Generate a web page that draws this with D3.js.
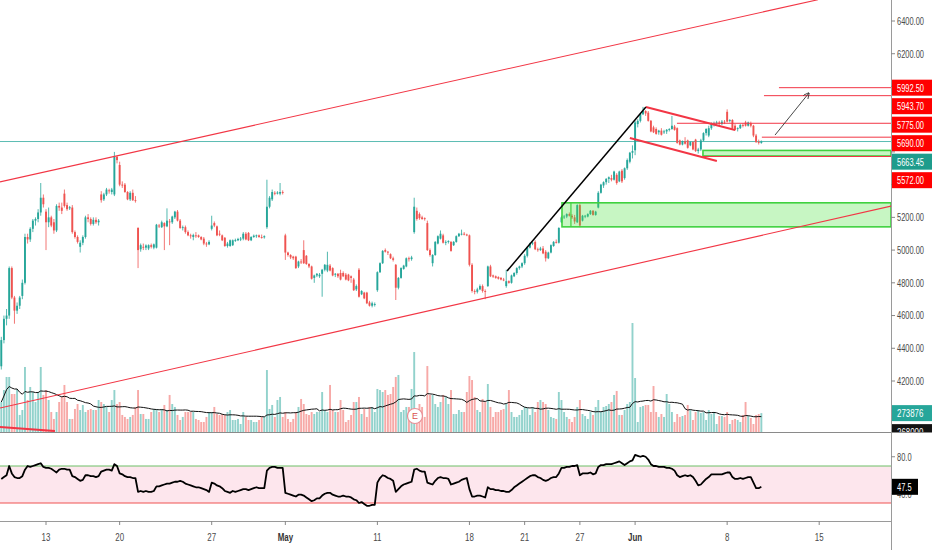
<!DOCTYPE html>
<html><head><meta charset="utf-8">
<script src="https://cdn.jsdelivr.net/npm/d3@7/dist/d3.min.js"></script>
<style>body{margin:0;background:#fff;overflow:hidden}svg{display:block}text{font-family:"Liberation Sans",Arial,sans-serif}</style>
</head><body><svg id="chart" width="932" height="550"></svg>
<script>
// ---------- DATA (hourly bars, NSE) ----------
const open=[4290,4450,4580,4600,4890,4710,4630,4660,4720,4800,5080,5065,5130,5180,5190,5230,5320,
5235,5170,5200,5170,5120,5270,5260,5345,5275,5255,5260,5110,5080,5020,5045,5080,5200,5190,5160,5185,5170,
5340,5310,5340,5365,5355,5340,5570,5520,5400,5400,5355,5310,5350,5305,5135,5005,5020,5015,5010,5030,5015,
5015,5150,5140,5165,5145,5175,5170,5200,5235,5180,5135,5140,5110,5090,5080,5090,5090,5080,5070,5040,5035,
5130,5165,5145,5100,5090,5075,5025,5025,5030,5060,5060,5065,5070,5100,5105,5060,5080,5085,5090,5080,5078,
5140,5265,5310,5350,5345,5345,5355,5090,4985,4970,4960,4960,4900,4930,5000,4965,4915,4900,4830,4845,4840,
4855,4880,4875,4905,4890,4850,4855,4860,4860,4850,4850,4840,4820,4760,4880,4730,4740,4740,4680,4660,4665,
4755,4865,4920,5000,4990,4975,4950,4910,4770,4830,4885,4900,4950,4945,5110,5240,5220,5200,5195,5165,5000,
4920,4970,5040,5070,5090,5045,5050,5050,5030,5050,5085,5095,5100,5095,5090,4910,4750,4745,4760,4780,4750,
4780,4900,4845,4840,4835,4830,4820,4780,4810,4800,4840,4860,4890,4900,4920,4965,5015,5040,5050,5005,5000,
5010,4990,4950,4985,5025,5050,5045,5170,5200,5205,5220,5210,5200,5170,5275,5180,5205,5205,5220,5240,5215,
5260,5350,5395,5415,5435,5440,5430,5460,5420,5485,5440,5500,5540,5595,5610,5770,5790,5830,5850,5840,5790,
5750,5740,5720,5730,5720,5725,5735,5740,5755,5745,5670,5645,5665,5670,5640,5660,5675,5605,5615,5670,5715,
5700,5745,5765,5775,5780,5770,5785,5845,5790,5795,5760,5740,5745,5765,5780,5760,5775,5760,5700,5660,5655];
const high=[4470,4600,4640,4900,4900,4720,4680,4720,4820,5100,5100,5140,5190,5200,5250,5410,5340,
5250,5260,5210,5190,5280,5290,5290,5370,5290,5270,5275,5120,5090,5060,5090,5210,5220,5200,5200,5200,5190,
5360,5350,5380,5375,5380,5600,5575,5540,5420,5410,5360,5360,5370,5330,5140,5040,5040,5035,5035,5040,5040,
5160,5160,5180,5170,5255,5190,5210,5240,5245,5190,5150,5150,5120,5100,5100,5110,5095,5085,5080,5050,5060,
5210,5175,5150,5120,5095,5080,5050,5065,5065,5070,5075,5080,5110,5110,5110,5085,5095,5095,5095,5095,5090,
5430,5330,5370,5360,5360,5410,5365,5100,4990,4975,4965,4965,4935,4945,5060,4970,4920,4905,4850,4860,4860,
4885,4915,4990,4915,4895,4860,4860,4880,4870,4860,4855,4845,4830,4790,4890,4755,4745,4745,4690,4685,4680,
4870,4925,5000,5010,4995,4980,4960,4915,4835,4895,4910,4955,4960,4965,5320,5260,5230,5210,5200,5180,5010,
4975,5055,5090,5120,5100,5060,5060,5055,5055,5090,5105,5125,5110,5100,5095,4920,4760,4770,4790,4790,4760,
4905,4910,4850,4845,4840,4835,4830,4880,4815,4850,4865,4895,4905,4925,4975,5020,5045,5050,5060,5015,5020,
5025,5000,4990,5035,5055,5065,5140,5210,5215,5225,5230,5220,5215,5280,5285,5215,5215,5225,5245,5245,5240,
5360,5405,5420,5440,5450,5460,5485,5470,5485,5495,5505,5560,5600,5640,5790,5800,5835,5875,5855,5850,5795,
5760,5750,5735,5745,5735,5740,5745,5820,5765,5750,5675,5670,5690,5675,5665,5665,5680,5625,5680,5720,5745,
5760,5780,5785,5790,5790,5795,5795,5860,5800,5800,5770,5750,5770,5775,5790,5785,5785,5765,5710,5675,5670];
const low=[4270,4430,4540,4580,4700,4550,4610,4640,4700,4790,5040,5050,5110,5150,5170,5210,5260,
5000,5140,5140,5100,5110,5240,5220,5260,5240,5245,5100,5070,5040,4985,5030,5070,5170,5150,5150,5160,5150,
5290,5300,5330,5345,5340,5330,5530,5390,5380,5350,5305,5300,5300,5290,4890,4990,5000,5000,5000,5010,5005,
5010,5135,5135,5000,5140,5030,5160,5190,5175,5130,5120,5100,5085,5070,5060,5075,5075,5060,5030,5020,5030,
5120,5140,5085,5085,5055,5020,5015,5020,5025,5050,5055,5055,5060,5060,5055,5055,5075,5075,5075,5070,5070,
5130,5255,5300,5335,5340,5335,5340,4940,4960,4945,4940,4885,4890,4915,4915,4910,4890,4820,4800,4835,4830,
4715,4870,4865,4870,4840,4835,4830,4815,4835,4815,4810,4800,4750,4750,4710,4725,4700,4670,4655,4650,4655,
4745,4860,4915,4985,4970,4945,4930,4695,4760,4825,4880,4895,4930,4935,5100,5180,5185,5185,5180,4995,4960,
4900,4965,5035,5065,5040,5030,5040,4990,5025,5045,5080,5090,5090,5085,4900,4740,4730,4735,4755,4740,4700,
4775,4835,4830,4825,4820,4815,4810,4770,4795,4795,4835,4850,4880,4890,4910,4955,5010,5030,5000,4990,4995,
4975,4930,4945,4980,5020,5040,5040,5165,5190,5195,5205,5190,5160,5165,5140,5175,5195,5200,5215,5210,5210,
5255,5345,5380,5400,5410,5420,5425,5400,5415,5410,5430,5490,5530,5560,5580,5750,5780,5825,5820,5785,5720,
5715,5705,5705,5700,5710,5710,5725,5735,5730,5650,5640,5640,5645,5620,5635,5610,5600,5590,5605,5665,5700,
5690,5735,5755,5760,5765,5765,5770,5780,5780,5740,5730,5725,5740,5750,5755,5755,5750,5690,5655,5645,5650];
const close=[4450,4580,4600,4890,4710,4630,4660,4710,4800,5080,5065,5130,5180,5190,5230,5320,5280,
5170,5200,5150,5120,5270,5260,5240,5270,5250,5262,5110,5080,5050,5045,5080,5200,5190,5160,5185,5170,5180,
5305,5340,5370,5360,5370,5570,5550,5400,5395,5355,5310,5350,5305,5300,5000,5030,5015,5028,5030,5020,5035,
5155,5145,5170,5145,5180,5170,5205,5235,5180,5135,5140,5110,5090,5085,5092,5085,5080,5065,5040,5035,5050,
5150,5150,5090,5095,5060,5025,5040,5060,5060,5062,5068,5070,5100,5065,5060,5080,5088,5090,5080,5078,5085,
5265,5320,5355,5345,5352,5355,5350,4985,4970,4955,4950,4890,4930,4925,4920,4915,4900,4825,4845,4855,4850,
4880,4910,4910,4875,4845,4855,4840,4820,4840,4820,4815,4830,4755,4780,4715,4750,4705,4675,4660,4675,4670,
4865,4920,4995,4990,4985,4950,4940,4770,4830,4890,4905,4950,4945,4955,5265,5190,5195,5190,5190,5000,4970,
4970,5050,5085,5100,5045,5050,5055,4995,5050,5085,5100,5100,5095,5090,4910,4750,4745,4760,4780,4750,4745,
4900,4840,4838,4830,4825,4820,4815,4810,4800,4845,4860,4890,4900,4920,4965,5015,5040,5045,5005,5000,5010,
4980,4950,4985,5030,5050,5045,5135,5200,5205,5220,5210,5200,5175,5275,5150,5210,5210,5220,5240,5215,5235,
5350,5400,5415,5435,5445,5430,5480,5410,5480,5420,5500,5550,5595,5605,5780,5790,5830,5850,5835,5790,5725,
5720,5710,5730,5705,5725,5735,5740,5760,5735,5655,5645,5665,5650,5625,5660,5615,5605,5615,5670,5715,5740,
5745,5770,5775,5780,5770,5785,5780,5785,5795,5745,5735,5745,5765,5760,5760,5780,5760,5700,5660,5655,5663.45];
const volumeK=[435,609,798,798,551,551,624,247,319,943,464,653,580,435,580,943,537,
609,464,290,189,290,435,508,682,435,189,189,334,406,319,392,290,319,334,319,319,464,
435,406,363,290,464,609,406,435,247,218,189,218,247,363,609,261,261,189,189,290,334,
334,290,334,392,319,537,406,363,247,174,218,290,290,290,290,189,174,145,145,218,290,
290,363,261,247,261,247,290,319,174,174,189,116,290,218,174,174,145,145,174,218,218,
899,334,392,218,464,508,218,290,189,145,189,290,363,479,406,261,247,290,261,290,290,
580,319,290,682,319,290,290,464,319,145,174,247,435,435,508,261,334,218,363,363,290,
624,609,580,609,537,551,653,798,827,290,319,363,363,624,1160,290,406,363,218,957,537,
537,406,363,435,537,508,406,609,261,261,319,290,290,580,812,754,508,319,290,479,435,
696,363,218,290,290,319,334,406,609,290,218,218,247,319,363,348,247,363,290,435,464,
435,406,319,218,203,189,580,464,290,218,189,145,218,363,464,261,232,189,290,247,363,
464,290,363,377,406,435,537,595,247,247,319,406,435,1581,783,145,363,377,392,392,290,
667,290,218,261,218,551,406,290,145,261,218,232,247,392,319,174,290,319,276,290,174,
319,261,290,116,232,232,218,290,116,174,189,174,145,247,435,232,203,116,247,261,273.876];
const rsi=[56,58,60,70,62,58,57,57,59,66,70,69,70,71,72,73,69,
68,68,67,65,63,66,67,67,66,66,59,58,56,54,55,60,60,59,59,58,59,
64,65,66,66,65,72,70,62,61,59,58,58,57,57,42,43,42,43,42,42,43,
48,48,49,50,51,51,52,53,53,54,53,51,50,49,48,47,47,46,45,44,42,
52,51,49,48,46,43,42,41,43,42,43,44,45,45,44,45,46,47,46,46,46,
65,68,69,69,68,68,68,41,40,39,38,37,39,39,38,36,34,32,33,35,35,
38,40,41,41,39,38,37,37,38,37,37,36,34,33,30,31,29,27,27,28,28,
52,57,60,59,57,56,54,42,45,48,50,51,52,53,66,67,65,64,64,52,51,
50,54,57,58,57,57,56,50,51,52,53,55,56,57,45,37,37,38,38,37,36,
47,45,45,44,44,43,43,42,42,44,47,49,51,53,55,57,59,60,60,58,57,
55,54,55,57,58,58,62,68,68,69,69,70,70,71,60,62,62,62,63,61,62,
69,71,71,72,72,72,73,74,75,73,71,73,75,76,82,81,80,81,80,77,72,
70,70,69,69,69,68,68,67,65,60,58,59,60,59,60,58,54,49,50,53,56,
58,61,61,61,61,61,62,63,63,58,56,56,57,56,57,58,58,52,46,46,47.5];
const tickLabels=["13","20","27","May","11","18","21","27","Jun","8","15"];
const tickBars=[17,45,80,108,143,178,199,220,241,276,311];
const priceTicks=[4200,4400,4600,4800,5000,5200,5400,5600,5800,6000,6200,6400];
const rsiTicks=[80,40];
const priceLabels=[5992.5,5943.7,5775,5690,5663.45,5572];
const priceLabelKinds=["red","red","red","red","last","red"];
const volumeLabels=[273876,268000];
const lastPrice=5663.45;
const rsiUpper=70, rsiLower=30;
// drawings: bar index / price anchors
const trendLines=[
 {kind:"channel",i1:-0.5,p1:5417,i2:310.5,p2:6530},
 {kind:"channel",i1:-0.5,p1:4035,i2:338.3,p2:5269},
 {kind:"thick",i1:-0.5,p1:3919,i2:20.4,p2:3894},
 {kind:"thick",i1:245.1,p1:5874,i2:279,p2:5734},
 {kind:"thick",i1:239,p1:5685,i2:272.1,p2:5544},
 {kind:"black",i1:192.3,p1:4872,i2:245.1,p2:5874}
];
const levels=[{p:5992.5,i:295.7},{p:5943.7,i:290},{p:5775,i:256.9},{p:5690,i:289.2},{p:5572,i:266.8}];
const zones=[{i:213.2,top:5289,bottom:5142,inner:216.6},{i:266.8,top:5609,bottom:5575}];
const arrow={i1:294.2,p1:5703,i2:307.1,p2:5960};
const earningsBar=157.3;

// ---------- LAYOUT ----------
const W=932,H=550,plotR=891,mainB=432,rsiB=521;
const svg=d3.select("#chart");
const x=d3.scaleLinear().domain([0,311]).range([1.3,819.2]);
const y=d3.scaleLinear().domain([4200,6400]).range([381,21]);
const yv=d3.scaleLinear().domain([0,1600]).range([mainB,321.7]);
const yr=d3.scaleLinear().domain([rsiLower,rsiUpper]).range([503,466]);
const UP="#26a69a",DN="#ef5350",RED="#f23645";
const N=close.length;
const isUp=i=>close[i]>=open[i];
const axisCol="#4a4a4a";

const defs=svg.append("defs");
defs.append("clipPath").attr("id","cm").append("rect").attr("x",0).attr("y",0).attr("width",plotR).attr("height",mainB);
defs.append("clipPath").attr("id","cr").append("rect").attr("x",0).attr("y",mainB).attr("width",plotR).attr("height",rsiB-mainB);
defs.append("clipPath").attr("id","ca").append("rect").attr("x",plotR).attr("y",0).attr("width",W-plotR).attr("height",mainB);
defs.append("marker").attr("id","ah").attr("viewBox","0 0 10 10").attr("refX",9).attr("refY",5)
 .attr("markerWidth",7).attr("markerHeight",7).attr("orient","auto")
 .append("path").attr("d","M0,0L10,5L0,10").attr("fill","none").attr("stroke","#333").attr("stroke-width",1.3);

const main=svg.append("g").attr("clip-path","url(#cm)");

// volume
main.append("g").selectAll("rect").data(d3.range(N)).join("rect")
 .attr("x",i=>x(i)-0.95).attr("width",1.9)
 .attr("y",i=>yv(volumeK[i])).attr("height",i=>mainB-yv(volumeK[i]))
 .attr("fill",i=>isUp(i)?"rgba(38,166,154,0.5)":"rgba(239,83,80,0.5)");
// volume MA(20)
const volMA=d3.range(N).map(i=>d3.mean(volumeK.slice(Math.max(0,i-19),i+1)));
main.append("path").datum(d3.range(N)).attr("fill","none").attr("stroke","#111").attr("stroke-width",1)
 .attr("d",d3.line().x(i=>x(i)).y(i=>yv(volMA[i])));
// earnings marker
const eg=main.append("g").attr("transform",`translate(${x(earningsBar)},${mainB-16})`);
eg.append("circle").attr("r",7.5).attr("fill","#fff").attr("stroke","#e88f97").attr("stroke-width",1.2);
eg.append("text").attr("text-anchor","middle").attr("dy","0.36em").attr("font-size",9).attr("fill","#d9534f").text("E");

// last price line
main.append("line").attr("x1",0).attr("x2",plotR).attr("y1",y(lastPrice)).attr("y2",y(lastPrice))
 .attr("stroke",UP).attr("stroke-opacity",0.75).attr("stroke-width",1);

// candles
const cg=main.append("g");
cg.selectAll("line").data(d3.range(N)).join("line")
 .attr("x1",i=>x(i)).attr("x2",i=>x(i)).attr("y1",i=>y(high[i])).attr("y2",i=>y(low[i]))
 .attr("stroke",i=>isUp(i)?UP:DN).attr("stroke-width",0.8);
cg.selectAll("rect").data(d3.range(N)).join("rect")
 .attr("x",i=>x(i)-0.95).attr("width",1.9)
 .attr("y",i=>y(Math.max(open[i],close[i])))
 .attr("height",i=>Math.max(0.9,Math.abs(y(open[i])-y(close[i]))))
 .attr("fill",i=>isUp(i)?UP:DN);

// zones
zones.forEach(z=>{
  main.append("rect").attr("x",x(z.i)).attr("y",y(z.top)).attr("width",plotR-x(z.i)).attr("height",y(z.bottom)-y(z.top))
   .attr("fill","rgba(70,225,55,0.3)").attr("stroke","#3fd13f").attr("stroke-width",1.6);
  if(z.inner!==undefined) main.append("line").attr("x1",x(z.inner)).attr("x2",x(z.inner)).attr("y1",y(z.top)).attr("y2",y(z.bottom))
   .attr("stroke","#3fd13f").attr("stroke-width",1.2);
});
// horizontal levels
levels.forEach(l=>{
  main.append("line").attr("x1",x(l.i)).attr("x2",plotR).attr("y1",y(l.p)).attr("y2",y(l.p)).attr("stroke",RED).attr("stroke-width",1);
});
// trend lines
const tStyle={channel:{c:RED,w:1.1},thick:{c:RED,w:2},black:{c:"#000",w:1.5}};
trendLines.forEach(t=>{
  main.append("line").attr("x1",x(t.i1)).attr("y1",y(t.p1)).attr("x2",x(t.i2)).attr("y2",y(t.p2))
   .attr("stroke",tStyle[t.kind].c).attr("stroke-width",tStyle[t.kind].w);
});
main.append("line").attr("x1",x(arrow.i1)).attr("y1",y(arrow.p1)).attr("x2",x(arrow.i2)).attr("y2",y(arrow.p2))
 .attr("stroke","#333").attr("stroke-width",0.9).attr("marker-end","url(#ah)");

// RSI pane
const rp=svg.append("g").attr("clip-path","url(#cr)");
rp.append("rect").attr("x",0).attr("width",plotR).attr("y",yr(rsiUpper)).attr("height",yr(rsiLower)-yr(rsiUpper)).attr("fill","#fde6ed");
rp.append("line").attr("x1",0).attr("x2",plotR).attr("y1",yr(rsiUpper)).attr("y2",yr(rsiUpper)).attr("stroke","#6dbf67").attr("stroke-width",1);
rp.append("line").attr("x1",0).attr("x2",plotR).attr("y1",yr(rsiLower)).attr("y2",yr(rsiLower)).attr("stroke","#ef5350").attr("stroke-width",1);
rp.append("path").datum(d3.range(N)).attr("fill","none").attr("stroke","#000").attr("stroke-width",1.8).attr("stroke-linejoin","round")
 .attr("d",d3.line().x(i=>x(i)).y(i=>yr(rsi[i])));

// frame lines
svg.append("line").attr("x1",0).attr("x2",W).attr("y1",mainB+0.5).attr("y2",mainB+0.5).attr("stroke","#8a8a8a");
svg.append("line").attr("x1",0).attr("x2",plotR).attr("y1",rsiB+0.5).attr("y2",rsiB+0.5).attr("stroke","#9a9a9a");
svg.append("line").attr("x1",plotR+0.5).attr("x2",plotR+0.5).attr("y1",0).attr("y2",H).attr("stroke","#9a9a9a");

// condensed text via horizontal scale
function ctext(g,tx,ty,txt,fill,opts){
  opts=opts||{};
  return g.append("text").attr("transform",`translate(${tx},${ty}) scale(${opts.sx||0.68},1)`)
   .attr("dy","0.35em").attr("font-size",opts.fs||11).attr("fill",fill)
   .attr("text-anchor",opts.anchor||"start").attr("font-weight",opts.fw||"normal").text(txt);
}

// price label positions (stacked)
const labelY=[];let prev=-1e9;
priceLabels.forEach(p=>{const cy=Math.max(y(p),prev+18.5);prev=cy;labelY.push(cy);});
const covered=v=>labelY.some(c=>Math.abs(c-v)<11);

// price axis
const ax=svg.append("g");
priceTicks.forEach(p=>{
  ax.append("line").attr("x1",plotR).attr("x2",plotR+4).attr("y1",y(p)).attr("y2",y(p)).attr("stroke","#888");
  if(!covered(y(p))) ctext(ax,plotR+6,y(p),p.toFixed(2),axisCol);
});
// volume labels (clipped at pane boundary)
const axc=svg.append("g").attr("clip-path","url(#ca)");
const vy0=yv(volumeLabels[0]/1000);
volumeLabels.forEach((v,k)=>{
  const cy=vy0+k*19;
  axc.append("rect").attr("x",plotR+1).attr("y",cy-8).attr("width",W-plotR-1).attr("height",16).attr("fill",k===0?UP:"#131313");
  ctext(axc,plotR+6,cy,String(v),"#fff",{sx:0.72});
});
// price labels
priceLabels.forEach((p,k)=>{
  const cy=labelY[k];
  ax.append("rect").attr("x",plotR+1).attr("y",cy-8).attr("width",W-plotR-1).attr("height",16)
   .attr("fill",priceLabelKinds[k]==="last"?"#1e9c8c":"#ff0000");
  ctext(ax,plotR+6,cy,p.toFixed(2),"#fff");
});
// RSI axis
rsiTicks.forEach(v=>{
  svg.append("line").attr("x1",plotR).attr("x2",plotR+4).attr("y1",yr(v)).attr("y2",yr(v)).attr("stroke","#888");
  ctext(svg,plotR+6,yr(v),v.toFixed(1),axisCol);
});
const lastR=rsi[N-1];
svg.append("rect").attr("x",plotR+1).attr("y",yr(lastR)-8).attr("width",26).attr("height",16).attr("fill","#000");
ctext(svg,plotR+6,yr(lastR),lastR.toFixed(1),"#fff");

// time axis
tickLabels.forEach((t,k)=>{
  const xx=x(tickBars[k]);
  svg.append("line").attr("x1",xx).attr("x2",xx).attr("y1",rsiB).attr("y2",rsiB+4).attr("stroke","#888");
  const bold=isNaN(+t);
  ctext(svg,xx,rsiB+16,t,bold?"#333":axisCol,{anchor:"middle",fw:bold?"bold":"normal",sx:0.72});
});
</script></body></html>
